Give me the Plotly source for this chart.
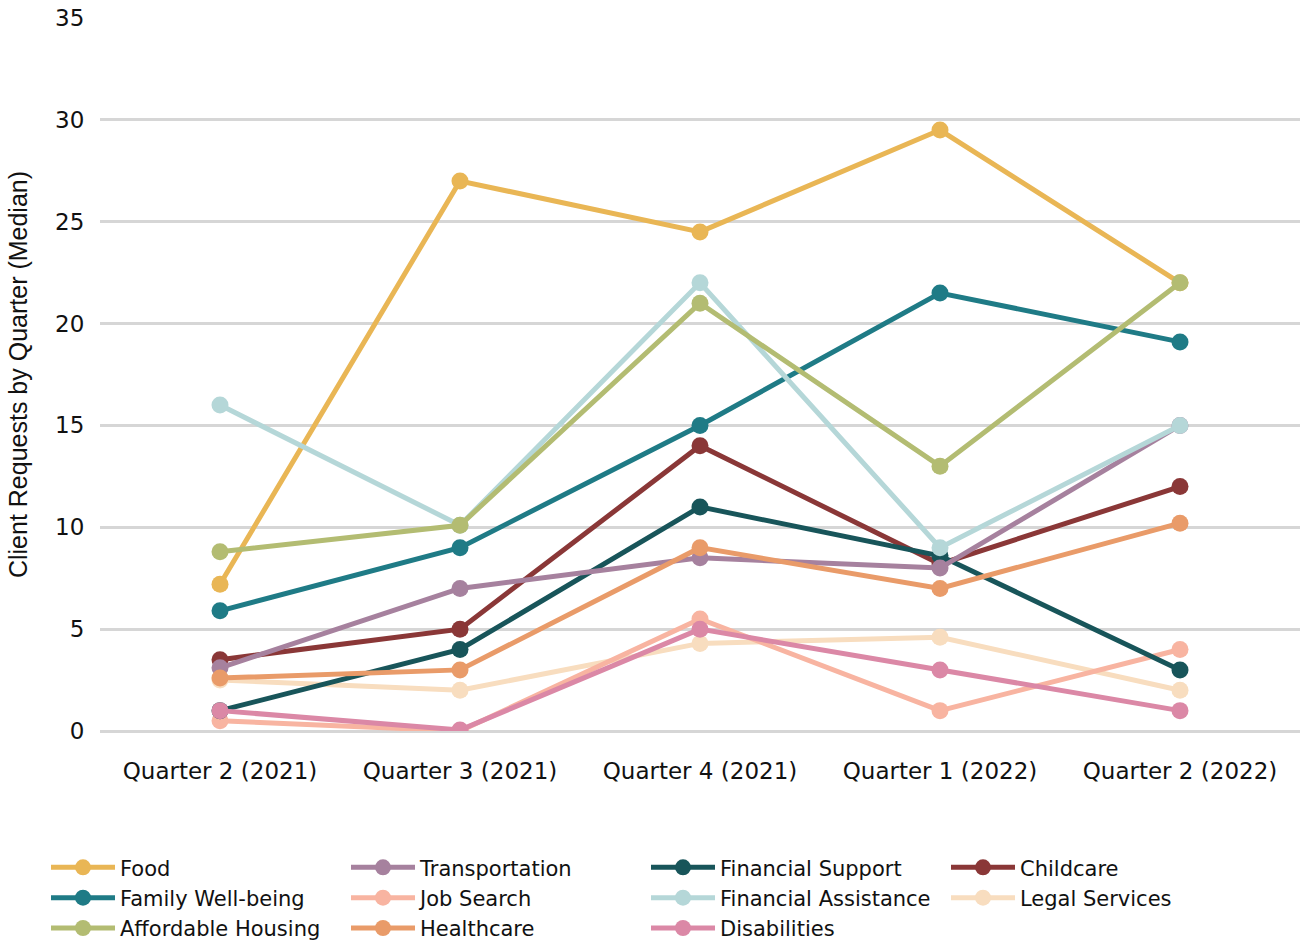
import plotly.graph_objects as go

quarters = ["Quarter 2 (2021)", "Quarter 3 (2021)", "Quarter 4 (2021)", "Quarter 1 (2022)", "Quarter 2 (2022)"]

food = [7.2, 27.0, 24.5, 29.5, 22.0]
family_wellbeing = [5.9, 9.0, 15.0, 21.5, 19.1]
affordable_housing = [8.8, 10.1, 21.0, 13.0, 22.0]
transportation = [3.1, 7.0, 8.5, 8.0, 15.0]
job_search = [0.5, 0.0, 5.5, 1.0, 4.0]
healthcare = [2.6, 3.0, 9.0, 7.0, 10.2]
financial_support = [1.0, 4.0, 11.0, 8.6, 3.0]
financial_assistance = [16.0, 10.1, 22.0, 9.0, 15.0]
disabilities = [1.0, 0.05, 5.0, 3.0, 1.0]
childcare = [3.5, 5.0, 14.0, 8.2, 12.0]
legal_services = [2.5, 2.0, 4.3, 4.6, 2.0]

# (name, values, color, legend rank); listed in drawing order (bottom to top)
series = [
    ("Legal Services", legal_services, "#F8DDBF", 8),
    ("Job Search", job_search, "#F8B4A1", 6),
    ("Childcare", childcare, "#8A3737", 4),
    ("Financial Support", financial_support, "#18555A", 3),
    ("Food", food, "#E9B655", 1),
    ("Family Well-being", family_wellbeing, "#1F7B86", 5),
    ("Transportation", transportation, "#A6819E", 2),
    ("Healthcare", healthcare, "#E99B69", 10),
    ("Disabilities", disabilities, "#DB88A6", 11),
    ("Financial Assistance", financial_assistance, "#B5D7D8", 7),
    ("Affordable Housing", affordable_housing, "#B3BC72", 9),
]

fig = go.Figure()
for name, vals, color, rank in series:
    fig.add_trace(go.Scatter(
        x=quarters, y=vals, name=name, mode="lines+markers",
        line=dict(color=color, width=5),
        marker=dict(color=color, size=17),
        legendrank=rank,
    ))

fig.update_layout(
    width=1301, height=945,
    margin=dict(l=100, r=1, t=18, b=214, autoexpand=False),
    plot_bgcolor="white", paper_bgcolor="white",
    font=dict(family="DejaVu Sans", size=23, color="#111111"),
    showlegend=True,
    legend=dict(
        orientation="h", x=-0.045, xanchor="left", y=-0.163, yanchor="top",
        entrywidth=221, entrywidthmode="pixels", traceorder="normal",
        font=dict(family="DejaVu Sans", size=21, color="#111111"),
        tracegroupgap=0, itemwidth=64,
    ),
)
fig.update_xaxes(
    type="category", range=[-0.5, 4.5], showgrid=False, showline=False,
    zeroline=False, ticks="outside", ticklen=19, tickcolor="rgba(0,0,0,0)",
    tickfont=dict(family="DejaVu Sans", size=23),
)
fig.update_yaxes(
    range=[0, 35], dtick=5, showgrid=True, gridcolor="#D6D6D6", gridwidth=2.5,
    zeroline=True, zerolinecolor="#D6D6D6", zerolinewidth=2.5, showline=False,
    ticks="outside", ticklen=10, tickcolor="rgba(0,0,0,0)",
    tickfont=dict(family="DejaVu Sans", size=23),
    title=dict(text="Client Requests by Quarter (Median)", standoff=20,
               font=dict(family="Liberation Sans", size=25, color="#111111")),
)

fig.write_html("out.html")
